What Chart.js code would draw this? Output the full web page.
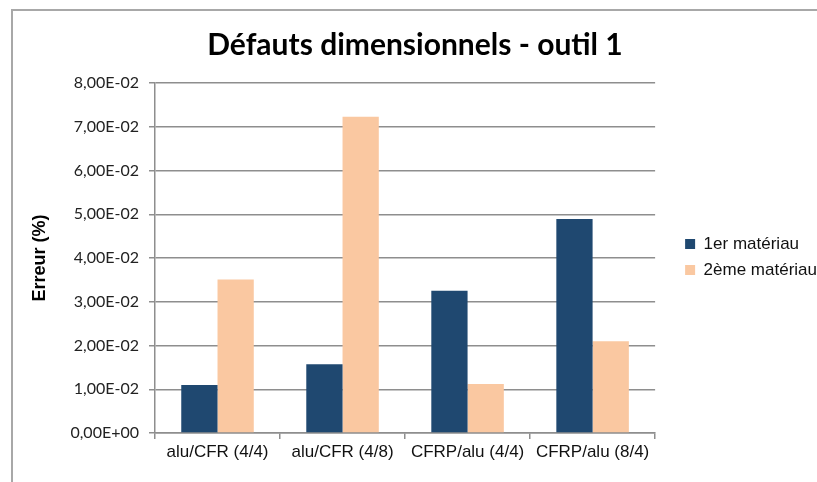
<!DOCTYPE html>
<html>
<head>
<meta charset="utf-8">
<script src="https://cdn.jsdelivr.net/npm/chart.js@4"></script>
<style>
  html, body { margin: 0; padding: 0; background: #fff; overflow: hidden; }
  #wrap { position: relative; width: 817px; height: 482px; overflow: hidden; }
  #frame { position: absolute; left: 11px; top: 9px; width: 2000px; height: 2000px;
           border-left: 2px solid #a8a8a8; border-top: 2px solid #a8a8a8; }
  #chart { position: absolute; left: 0; top: 0; }
</style>
</head>
<body>
<div id="wrap">
  <div id="frame"></div>
  <canvas id="chart" width="817" height="482"></canvas>
</div>
<script>
const categories = ['alu/CFR (4/4)', 'alu/CFR (4/8)', 'CFRP/alu (4/4)', 'CFRP/alu (8/4)'];
const seriesNames = ['1er matériau', '2ème matériau'];
const firstMaterial = [0.0110, 0.0157, 0.0325, 0.0489];
const secondMaterial = [0.0351, 0.0723, 0.0112, 0.0210];
const yTicks = [0, 0.01, 0.02, 0.03, 0.04, 0.05, 0.06, 0.07, 0.08];

// "8,00E-02" style labels
function sciLabel(v) {
  const [mant, exp] = Number(v).toExponential(2).split('e');
  const e = parseInt(exp, 10);
  const sign = e < 0 ? '-' : '+';
  return mant.replace('.', ',') + 'E' + sign + String(Math.abs(e)).padStart(2, '0');
}

const gridColor = '#8e8e8e';

// widen the legend box and push its entries away from the plot
const legendShift = {
  id: 'legendShift',
  afterInit(chart) {
    const lg = chart.legend;
    const fit = lg.fit.bind(lg);
    lg.fit = function () { fit(); this.width += 11; };
  },
  afterLayout(chart) {
    const lg = chart.legend;
    lg.left += 21; lg.right += 21;
    lg.top += 16; lg.bottom += 16;
  }
};

new Chart(document.getElementById('chart'), {
  type: 'bar',
  data: {
    labels: categories,
    datasets: [{
      label: seriesNames[0],
      data: firstMaterial,
      backgroundColor: '#1f4870'
    }, {
      label: seriesNames[1],
      data: secondMaterial,
      backgroundColor: '#fac8a1'
    }]
  },
  plugins: [legendShift],
  options: {
    responsive: false,
    animation: false,
    layout: { padding: { left: 13, right: 0, top: 0, bottom: 0 } },
    barPercentage: 1,
    categoryPercentage: 0.58,
    plugins: {
      tooltip: { enabled: false },
      title: {
        display: true,
        text: 'Défauts dimensionnels - outil 1',
        color: '#000',
        font: { family: 'Lato', size: 30, weight: 'bold' },
        padding: { top: 27, bottom: 20 }
      },
      legend: {
        position: 'right',
        labels: {
          color: '#111',
          font: { family: 'Liberation Sans', size: 17 },
          boxWidth: 10,
          boxHeight: 10,
          padding: 9
        }
      }
    },
    scales: {
      x: {
        grid: { display: true, drawOnChartArea: false, drawTicks: true, tickLength: 6, color: gridColor, lineWidth: 1.5, offset: true },
        border: { color: gridColor, width: 1.5 },
        ticks: { color: '#111', font: { family: 'Liberation Sans', size: 17 }, padding: 3, maxRotation: 0 },
        afterFit: function (scale) { scale.height = 49; }
      },
      y: {
        min: 0,
        max: 0.08,
        afterBuildTicks: function (scale) { scale.ticks = yTicks.map(v => ({ value: v })); },
        grid: { color: gridColor, lineWidth: 1.5, tickLength: 6 },
        border: { color: gridColor, width: 1.5 },
        ticks: { color: '#222', font: { family: 'Lato', size: 16 }, padding: 10, callback: v => sciLabel(v) },
        title: {
          display: true,
          text: 'Erreur (%)',
          color: '#000',
          font: { family: 'Liberation Sans', size: 18, weight: 'bold' },
          padding: { top: 16, bottom: 0 }
        },
        afterFit: function (scale) { scale.width = 142; }
      }
    }
  }
});
</script>
</body>
</html>
